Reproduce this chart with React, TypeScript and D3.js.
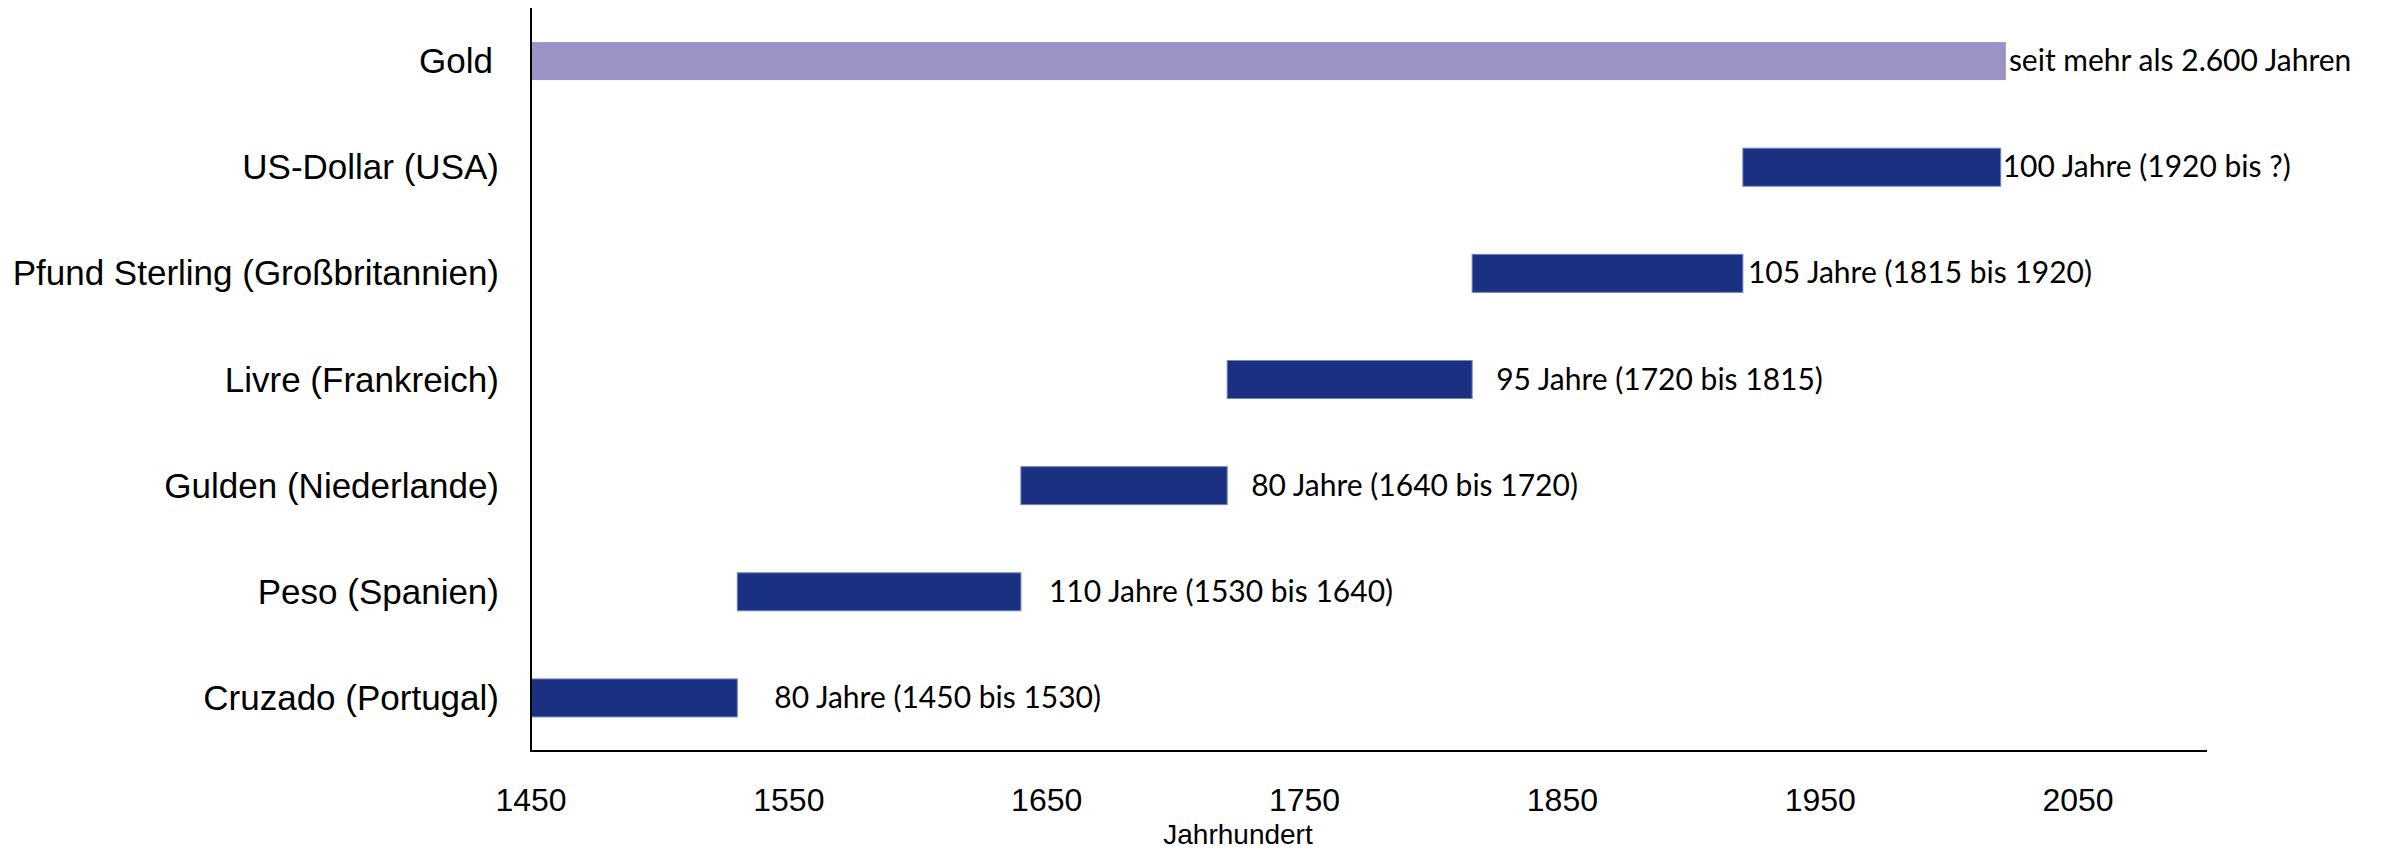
import React from "react";
import * as d3 from "d3";

const categories = [
  "Gold",
  "US-Dollar (USA)",
  "Pfund Sterling (Großbritannien)",
  "Livre (Frankreich)",
  "Gulden (Niederlande)",
  "Peso (Spanien)",
  "Cruzado (Portugal)",
];
const startYears = [1450, 1920, 1815, 1720, 1640, 1530, 1450];
const endYears = [2022, 2020, 1920, 1815, 1720, 1640, 1530];
const barLabels = [
  "seit mehr als 2.600 Jahren",
  "100 Jahre (1920 bis ?)",
  "105 Jahre (1815 bis 1920)",
  "95 Jahre (1720 bis 1815)",
  "80 Jahre (1640 bis 1720)",
  "110 Jahre (1530 bis 1640)",
  "80 Jahre (1450 bis 1530)",
];
const tickValues = [1450, 1550, 1650, 1750, 1850, 1950, 2050];
const axisTitle = "Jahrhundert";

// layout (not data)
const W = 2384;
const H = 851;
const plotLeft = 531;
const plotRight = 2207;
const plotTop = 8;
const plotBottom = 751;
const labelGaps = [3, 2, 5, 24, 24, 28, 37];
const catRightPad = [38, 32, 32, 32, 32, 32, 32];
const barColors = ["#9B93C6", "#1A3080", "#1A3080", "#1A3080", "#1A3080", "#1A3080", "#1A3080"];

export default function App() {
  const x = d3.scaleLinear().domain([1450, 2100]).range([plotLeft, plotRight]);
  const y = d3
    .scaleBand<string>()
    .domain(categories)
    .range([plotTop, plotBottom])
    .paddingInner(0.642)
    .paddingOuter(0.321);
  const bw = y.bandwidth();

  return (
    <svg
      width={W}
      height={H}
      style={{ position: "absolute", left: 0, top: 0, background: "#fff" }}
    >
      <rect x={0} y={0} width={W} height={H} fill="#fff" />
      {categories.map((c, i) => {
        const y0 = y(c)!;
        const cy = y0 + bw / 2;
        const x0 = x(startYears[i]);
        const x1 = x(endYears[i]);
        return (
          <g key={c}>
            <rect
              x={x0}
              y={y0}
              width={x1 - x0}
              height={bw}
              fill={barColors[i]}
              stroke={i === 0 ? "none" : "#7083BF"}
              strokeWidth={1}
            />
            <text
              x={x1 + labelGaps[i]}
              y={cy + 10}
              fontFamily="Lato, 'Open Sans', sans-serif"
              fontSize={30}
              fill="#000"
            >
              {barLabels[i]}
            </text>
            <text
              x={plotLeft - catRightPad[i]}
              y={cy + 12}
              textAnchor="end"
              fontFamily="'Liberation Sans', Arial, sans-serif"
              fontSize={35}
              fill="#000"
            >
              {c}
            </text>
          </g>
        );
      })}
      <line x1={plotLeft} x2={plotLeft} y1={plotTop} y2={plotBottom} stroke="#000" strokeWidth={2} />
      <line x1={plotLeft - 1} x2={plotRight} y1={plotBottom} y2={plotBottom} stroke="#000" strokeWidth={2} />
      {tickValues.map((t) => (
        <text
          key={t}
          x={x(t)}
          y={811}
          textAnchor="middle"
          fontFamily="'Liberation Sans', Arial, sans-serif"
          fontSize={32}
          fill="#000"
        >
          {t}
        </text>
      ))}
      <text
        x={1238}
        y={844}
        textAnchor="middle"
        fontFamily="'Liberation Sans', Arial, sans-serif"
        fontSize={28}
        fill="#000"
      >
        {axisTitle}
      </text>
    </svg>
  );
}
